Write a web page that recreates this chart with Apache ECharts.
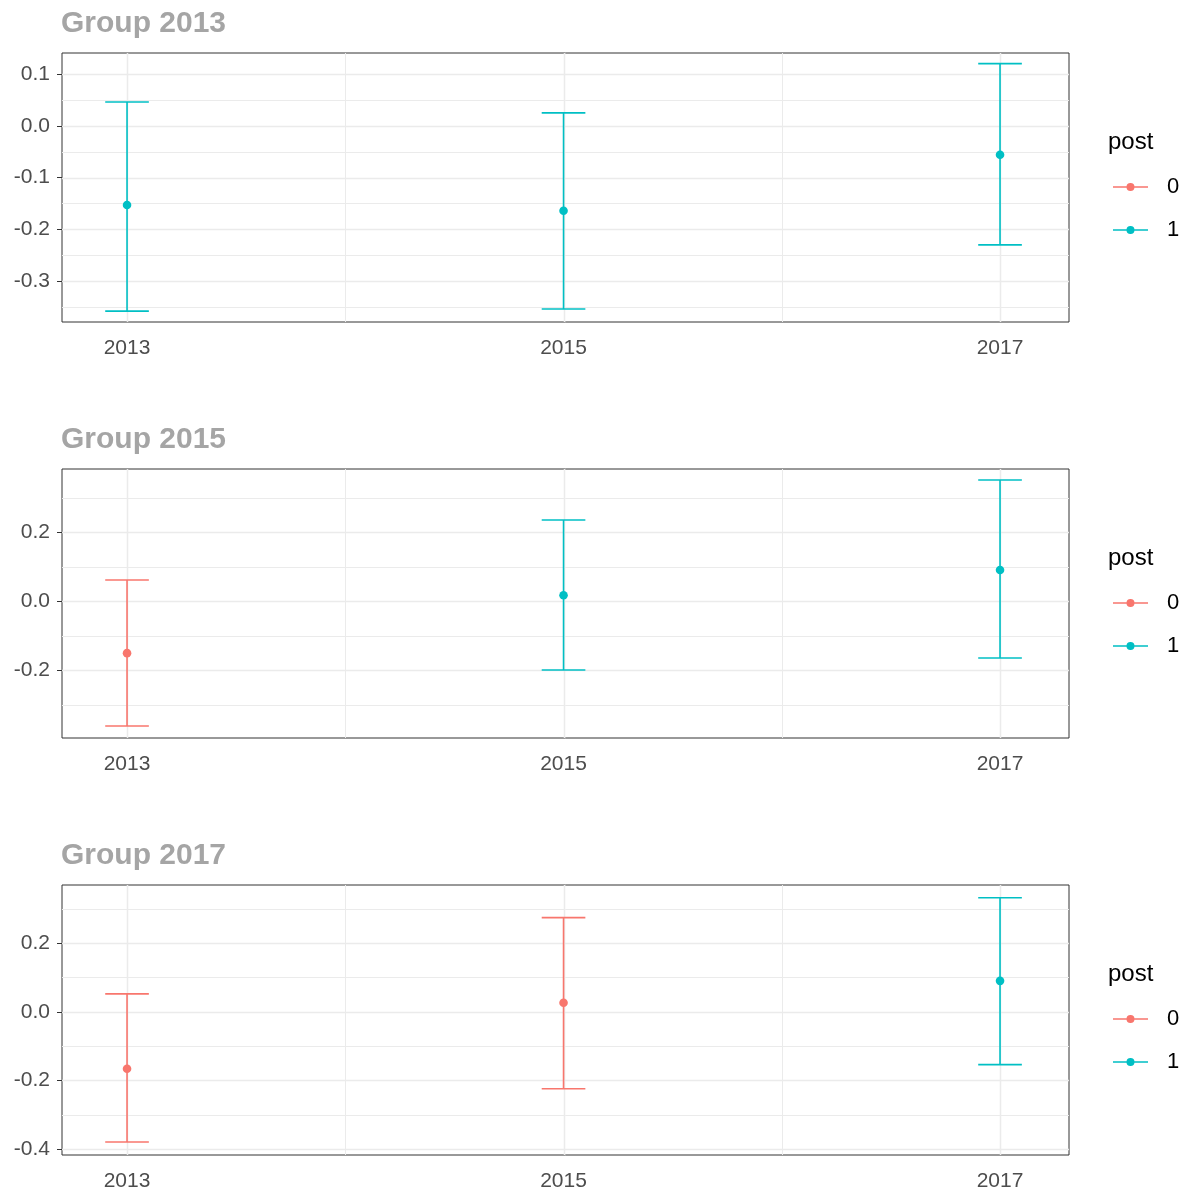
<!DOCTYPE html>
<html>
<head>
<meta charset="utf-8">
<script src="https://cdn.jsdelivr.net/npm/echarts@6/dist/echarts.min.js"></script>
<style>
html,body{margin:0;padding:0;background:#fff;}
#chart{width:1187px;height:1192px;}
</style>
</head>
<body>
<div id="chart"></div>
<script>
// ---- data ----
const groupNames = ['Group 2013', 'Group 2015', 'Group 2017'];
const years = [2013, 2015, 2017];
const xTicks = [2013, 2015, 2017];
const xMinor = [2014, 2016];

const g2013Post = [1, 1, 1];
const g2013Est = [-0.153, -0.164, -0.056];
const g2013Lo = [-0.358, -0.354, -0.230];
const g2013Hi = [0.046, 0.025, 0.120];

const g2015Post = [0, 1, 1];
const g2015Est = [-0.151, 0.017, 0.090];
const g2015Lo = [-0.362, -0.200, -0.165];
const g2015Hi = [0.061, 0.235, 0.351];

const g2017Post = [0, 0, 1];
const g2017Est = [-0.166, 0.026, 0.090];
const g2017Lo = [-0.379, -0.224, -0.154];
const g2017Hi = [0.052, 0.274, 0.332];

const yTicks1 = [-0.3, -0.2, -0.1, 0.0, 0.1];
const yMinor1 = [-0.35, -0.25, -0.15, -0.05, 0.05];
const yTicks2 = [-0.2, 0.0, 0.2];
const yMinor2 = [-0.3, -0.1, 0.1, 0.3];
const yTicks3 = [-0.4, -0.2, 0.0, 0.2];
const yMinor3 = [-0.3, -0.1, 0.1, 0.3];

const legendLabels = ['0', '1'];
const legendTitle = 'post';

// ---- styling / layout ----
const COLORS = { '0': '#F8766D', '1': '#00BFC4' };
const panels = [
  { post: g2013Post, est: g2013Est, lo: g2013Lo, hi: g2013Hi, yT: yTicks1, yM: yMinor1, ymin: -0.379, ymax: 0.1406, top: 53, h: 269 },
  { post: g2015Post, est: g2015Est, lo: g2015Lo, hi: g2015Hi, yT: yTicks2, yM: yMinor2, ymin: -0.397, ymax: 0.383, top: 469, h: 269 },
  { post: g2017Post, est: g2017Est, lo: g2017Lo, hi: g2017Hi, yT: yTicks3, yM: yMinor3, ymin: -0.417, ymax: 0.369, top: 885, h: 270 }
];
const XMIN = 2012.702, XMAX = 2017.316;
const FONT = 'Liberation Sans, Arial, sans-serif';

const grids = [], xAxes = [], yAxes = [], series = [], titles = [], legends = [];

panels.forEach((p, i) => {
  grids.push({ left: 62, right: 118, top: p.top, height: p.h, show: true, borderColor: '#333333', borderWidth: 1, backgroundColor: '#fff', z: 0 });
  xAxes.push({
    type: 'value', gridIndex: i, min: XMIN, max: XMAX,
    axisLine: { show: false }, splitLine: { show: false },
    axisTick: { show: true, customValues: xTicks, length: 5, lineStyle: { color: '#333333', width: 1 } },
    axisLabel: { show: true, customValues: xTicks, formatter: v => String(Math.round(v)), color: '#4D4D4D', fontSize: 21, fontFamily: FONT, margin: 16 }
  });
  yAxes.push({
    type: 'value', gridIndex: i, min: p.ymin, max: p.ymax,
    axisLine: { show: false }, splitLine: { show: false },
    axisTick: { show: true, customValues: p.yT, length: 5, lineStyle: { color: '#333333', width: 1 } },
    axisLabel: { show: true, customValues: p.yT, formatter: v => v.toFixed(1), color: '#4D4D4D', fontSize: 21, fontFamily: FONT, margin: 12 }
  });

  // gridlines data: [x, y, kind] kind 0=x major,1=x minor,2=y major,3=y minor
  const gl = [];
  xTicks.forEach(v => gl.push([v, (p.ymin + p.ymax) / 2, 0]));
  xMinor.forEach(v => gl.push([v, (p.ymin + p.ymax) / 2, 1]));
  p.yT.forEach(v => gl.push([2015, v, 2]));
  p.yM.forEach(v => gl.push([2015, v, 3]));
  series.push({
    type: 'custom', name: 'grid' + i, xAxisIndex: i, yAxisIndex: i, silent: true, z: 1,
    data: gl, encode: { x: 0, y: 1 },
    renderItem: (params, api) => {
      const cs = params.coordSys;
      const kind = api.value(2);
      const major = kind === 0 || kind === 2;
      const style = { stroke: '#EBEBEB', lineWidth: major ? 1.5 : 1 };
      const pt = api.coord([api.value(0), api.value(1)]);
      if (kind < 2) {
        const x = Math.round(pt[0]) + 0.5;
        return { type: 'line', shape: { x1: x, y1: cs.y, x2: x, y2: cs.y + cs.height }, style };
      } else {
        const y = Math.round(pt[1]) + 0.5;
        return { type: 'line', shape: { x1: cs.x, y1: y, x2: cs.x + cs.width, y2: y }, style };
      }
    }
  });

  legendLabels.forEach(lbl => {
    const d = [];
    years.forEach((yr, k) => {
      if (String(p.post[k]) === lbl) d.push([yr, p.est[k], p.lo[k], p.hi[k]]);
    });
    series.push({
      type: 'custom', name: lbl, xAxisIndex: i, yAxisIndex: i, z: 3,
      itemStyle: { color: COLORS[lbl] },
      data: d, encode: { x: 0, y: [1, 2, 3] },
      renderItem: (params, api) => {
        const x = api.value(0);
        const c = api.coord([x, api.value(1)]);
        const lo = api.coord([x, api.value(2)]);
        const hi = api.coord([x, api.value(3)]);
        const capL = api.coord([x - 0.1, api.value(3)]);
        const capR = api.coord([x + 0.1, api.value(3)]);
        const col = COLORS[lbl];
        const st = { stroke: col, lineWidth: 1.6 };
        return {
          type: 'group',
          children: [
            { type: 'line', shape: { x1: c[0], y1: hi[1], x2: c[0], y2: lo[1] }, style: st },
            { type: 'line', shape: { x1: capL[0], y1: hi[1], x2: capR[0], y2: hi[1] }, style: st },
            { type: 'line', shape: { x1: capL[0], y1: lo[1], x2: capR[0], y2: lo[1] }, style: st },
            { type: 'circle', shape: { cx: c[0], cy: c[1], r: 4.3 }, style: { fill: col } }
          ]
        };
      }
    });
  });

  const off = i * 416;
  titles.push({ text: groupNames[i], left: 61, top: 9 + off, padding: 0, textStyle: { fontSize: 30, fontWeight: 'bold', color: '#A5A5A5', fontFamily: FONT } });
  titles.push({ text: legendTitle, left: 1108, top: 130 + off, padding: 0, textStyle: { fontSize: 24, fontWeight: 'normal', color: '#000', fontFamily: FONT } });
  legends.push({
    data: legendLabels, orient: 'vertical', left: 1113, top: 176 + off, padding: 0,
    itemWidth: 35, itemHeight: 8, itemGap: 21,
    icon: 'path://M0,3.3H35V4.7H0Z M17.5,0A4,4 0 1,1 17.49,0Z',
    selectedMode: false,
    textStyle: { fontSize: 22, lineHeight: 22, color: '#000', fontFamily: FONT, padding: [0, 0, 0, 14] }
  });
});

const chart = echarts.init(document.getElementById('chart'), null, { renderer: 'canvas' });
chart.setOption({
  animation: false,
  backgroundColor: '#fff',
  title: titles,
  legend: legends,
  grid: grids,
  xAxis: xAxes,
  yAxis: yAxes,
  series: series
});
</script>
</body>
</html>
